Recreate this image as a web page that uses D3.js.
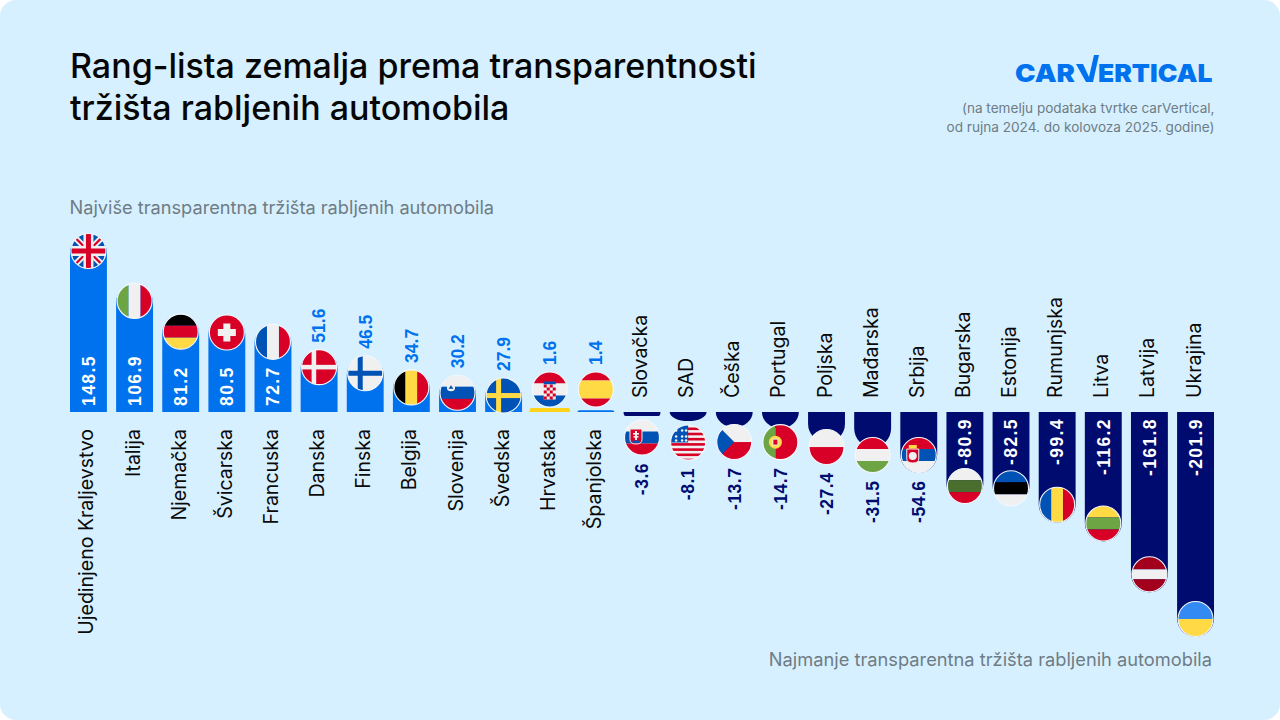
<!DOCTYPE html>
<html>
<head>
<meta charset="utf-8">
<script src="https://cdn.jsdelivr.net/npm/d3@7"></script>
<style>
    html, body { margin: 0; padding: 0; background: #fff; }
    text { font-family: Inter, "Noto Sans", sans-serif; }
    text.value { font-family: "Liberation Sans", Arial, sans-serif; font-weight: 700; }
</style>
</head>
<body>
<div id="chart"></div>
<script>
// values
const countries = ["Ujedinjeno Kraljevstvo", "Italija", "Njemačka", "Švicarska", "Francuska", "Danska", "Finska", "Belgija", "Slovenija", "Švedska", "Hrvatska", "Španjolska", "Slovačka", "SAD", "Češka", "Portugal", "Poljska", "Mađarska", "Srbija", "Bugarska", "Estonija", "Rumunjska", "Litva", "Latvija", "Ukrajina"];
const scores = [148.5, 106.9, 81.2, 80.5, 72.7, 51.6, 46.5, 34.7, 30.2, 27.9, 1.6, 1.4, -3.6, -8.1, -13.7, -14.7, -27.4, -31.5, -54.6, -80.9, -82.5, -99.4, -116.2, -161.8, -201.9];

const titleLines = ["Rang-lista zemalja prema transparentnosti", "tržišta rabljenih automobila"];
const noteLines = ["(na temelju podataka tvrtke carVertical,", "od rujna 2024. do kolovoza 2025. godine)"];
const topCaption = "Najviše transparentna tržišta rabljenih automobila";
const bottomCaption = "Najmanje transparentna tržišta rabljenih automobila";

const blue = "#0072EE", navy = "#000B70", bg = "#D7F0FF";
const RED = "#D80027", WHITE = "#F0F0F0", BLU = "#0052B4", YEL = "#FFDA44", GRN = "#6DA544", BLK = "#000000";

const svg = d3.select("#chart").append("svg")
    .attr("width", 1280)
    .attr("height", 720)
    .style("display", "block");

svg.append("rect").attr("width", 1280).attr("height", 720).attr("rx", 16).attr("fill", bg);

// scales: the two sides of the picture are not drawn at quite the same rate
const x = d3.scaleBand().domain(countries).range([70, 1214]).paddingInner(0.2).paddingOuter(0);
const y = d3.scaleLinear().domain([-201.9, 0, 148.5]).range([637, 412, 234]);
const r = 17.5;

// where a flag sits relative to the end of its bar
const negFlag = d3.scaleLinear()
    .domain([416, 421, 428, 442.5, 447, 473, 503, 504.8, 522.7])
    .range([437.5, 442.5, 442, 447, 455, 455, 487, 489.5, 504.7]);
function flagCentre(v) {
    const p = y(v);
    if (v >= 0) return p > 380 ? 389.5 : p + 17;
    return p > 522.7 ? p - 18 : negFlag(p);
}

// bars
function barPath(d) {
    const pad = d === 1.6 ? 2 : 0;
    const x0 = x(countries[scores.indexOf(d)]) - pad, x1 = x0 + x.bandwidth() + pad * 2;
    const end = y(d) + (d > 0 ? -pad : 0), h = Math.abs(end - y(0));
    const ry = Math.min(18.5, h), rx = h < 7 ? 2 : 18.5;
    const s = d > 0 ? -1 : 1;
    return "M" + x0 + "," + y(0)
        + "V" + (end - s * ry)
        + "A" + rx + "," + ry + " 0 0 " + (d > 0 ? 1 : 0) + " " + (x0 + rx) + "," + end
        + "H" + (x1 - rx)
        + "A" + rx + "," + ry + " 0 0 " + (d > 0 ? 1 : 0) + " " + x1 + "," + (end - s * ry)
        + "V" + y(0) + "Z";
}

svg.append("g").selectAll("path")
    .data(scores)
    .join("path")
    .attr("d", barPath)
    .attr("fill", d => d === 1.6 ? "#FFD31A" : (d > 0 ? blue : navy));

// flag helpers, drawn in a -18..18 box
function rect(g, x0, y0, w, h, c) {
    g.append("rect").attr("x", x0).attr("y", y0).attr("width", w).attr("height", h).attr("fill", c);
}
function hStripes(g, cols, cuts) {
    cuts = cuts || d3.range(cols.length + 1).map(i => -18 + 36 * i / cols.length);
    cols.forEach((c, i) => rect(g, -18, cuts[i], 36, cuts[i + 1] - cuts[i], c));
}
function vStripes(g, cols) {
    cols.forEach((c, i) => rect(g, -18 + 36 * i / cols.length, -18, 36 / cols.length, 36, c));
}
function poly(g, pts, c) {
    g.append("polygon").attr("points", pts).attr("fill", c);
}
function shield(g, cx, cy, w, h, fill, stroke) {
    g.append("path")
        .attr("d", "M" + (cx - w / 2) + "," + (cy - h / 2) + "H" + (cx + w / 2) + "V" + (cy + h / 5)
            + "Q" + (cx + w / 2) + "," + (cy + h / 2) + " " + cx + "," + (cy + h / 2)
            + "Q" + (cx - w / 2) + "," + (cy + h / 2) + " " + (cx - w / 2) + "," + (cy + h / 5) + "Z")
        .attr("fill", fill).attr("stroke", stroke).attr("stroke-width", 1);
}

const flags = {
    "Ujedinjeno Kraljevstvo": g => {
        rect(g, -18, -18, 36, 36, BLU);
        [[-18, -18, 18, 18], [-18, 18, 18, -18]].forEach(l => {
            g.append("line").attr("x1", l[0]).attr("y1", l[1]).attr("x2", l[2]).attr("y2", l[3]).attr("stroke", WHITE).attr("stroke-width", 6);
            g.append("line").attr("x1", l[0]).attr("y1", l[1]).attr("x2", l[2]).attr("y2", l[3]).attr("stroke", RED).attr("stroke-width", 2.2);
        });
        rect(g, -18, -5, 36, 10, WHITE); rect(g, -5, -18, 10, 36, WHITE);
        rect(g, -18, -2.5, 36, 5, RED); rect(g, -2.5, -18, 5, 36, RED);
    },
    "Italija": g => vStripes(g, [GRN, WHITE, RED]),
    "Njemačka": g => hStripes(g, [BLK, RED, YEL]),
    "Švicarska": g => { rect(g, -18, -18, 36, 36, RED); rect(g, -9, -3.5, 18, 7, WHITE); rect(g, -3.5, -9, 7, 18, WHITE); },
    "Francuska": g => vStripes(g, [BLU, WHITE, RED]),
    "Danska": g => { rect(g, -18, -18, 36, 36, RED); rect(g, -18, -2.3, 36, 4.6, WHITE); rect(g, -7.5, -18, 4.6, 36, WHITE); },
    "Finska": g => { rect(g, -18, -18, 36, 36, WHITE); rect(g, -18, -2.5, 36, 5, BLU); rect(g, -7.5, -18, 5, 36, BLU); },
    "Belgija": g => vStripes(g, [BLK, YEL, RED]),
    "Slovenija": g => {
        hStripes(g, [WHITE, BLU, RED]);
        shield(g, -6.5, -6.5, 8, 10, WHITE, "none");
        poly(g, "-9,-4 -6.5,-7.5 -4,-4", BLU);
    },
    "Švedska": g => { rect(g, -18, -18, 36, 36, BLU); rect(g, -18, -2.5, 36, 5, YEL); rect(g, -7.5, -18, 5, 36, YEL); },
    "Hrvatska": g => {
        hStripes(g, [RED, WHITE, BLU]);
        rect(g, -6, -8, 12, 3, BLU);
        rect(g, -6, -5, 12, 15, WHITE);
        d3.range(5).forEach(i => d3.range(4).forEach(j => {
            if ((i + j) % 2 === 0) rect(g, -6 + j * 3, -5 + i * 3, 3, 3, RED);
        }));
    },
    "Španjolska": g => hStripes(g, [RED, YEL, RED], [-18, -9, 9, 18]),
    "Slovačka": g => {
        hStripes(g, [WHITE, BLU, RED]);
        shield(g, -6, -1, 12, 15, RED, WHITE);
        rect(g, -7, -6.5, 2, 9, WHITE); rect(g, -9, -4.5, 6, 1.6, WHITE); rect(g, -8.5, -1.5, 5, 1.6, WHITE);
        rect(g, -9.5, 3, 7, 2.5, BLU);
    },
    "SAD": g => {
        rect(g, -18, -18, 36, 36, WHITE);
        d3.range(-15, 18, 5.2).forEach(t => rect(g, -18, t, 36, 2.6, RED));
        rect(g, -18, -18, 18, 18, BLU);
        [[-12, -12], [-6, -12], [-12, -6], [-6, -6], [-12, -2], [-6, -2], [-2, -12], [-2, -6], [-2, -2]].forEach(p =>
            g.append("circle").attr("cx", p[0]).attr("cy", p[1]).attr("r", 1.3).attr("fill", WHITE));
    },
    "Češka": g => { hStripes(g, [WHITE, RED]); poly(g, "-18,-18 0,0 -18,18", BLU); },
    "Portugal": g => {
        rect(g, -18, -18, 13, 36, GRN); rect(g, -5, -18, 23, 36, RED);
        g.append("circle").attr("cx", -5).attr("r", 6.5).attr("fill", YEL);
        rect(g, -8, -3.5, 6, 7, WHITE);
        rect(g, -7, -2.5, 4, 5, RED);
    },
    "Poljska": g => hStripes(g, [WHITE, RED]),
    "Mađarska": g => hStripes(g, [RED, WHITE, GRN]),
    "Srbija": g => {
        hStripes(g, [RED, BLU, WHITE]);
        shield(g, -6, 1, 12, 14, RED, WHITE);
        rect(g, -10, -10, 8, 3.5, YEL);
        g.append("circle").attr("cx", -6).attr("cy", 1).attr("r", 4).attr("fill", WHITE);
    },
    "Bugarska": g => hStripes(g, [WHITE, "#496E2D", RED]),
    "Estonija": g => hStripes(g, [BLU, BLK, WHITE]),
    "Rumunjska": g => vStripes(g, [BLU, YEL, RED]),
    "Litva": g => hStripes(g, [YEL, GRN, RED]),
    "Latvija": g => hStripes(g, ["#A2001D", WHITE, "#A2001D"], [-18, -5, 5, 18]),
    "Ukrajina": g => hStripes(g, ["#338AF3", YEL])
};

svg.append("defs").append("clipPath").attr("id", "flag-clip")
    .append("circle").attr("r", r);

countries.forEach((name, i) => {
    const g = svg.append("g")
        .attr("transform", "translate(" + (x(name) + x.bandwidth() / 2) + "," + flagCentre(scores[i]) + ")");
    const inner = g.append("g").attr("clip-path", "url(#flag-clip)");
    flags[name](inner);
    g.append("circle").attr("r", r).attr("fill", "none").attr("stroke", "#F4F8FB").attr("stroke-width", 1.1);
});

// rotated labels
function vText(px, py, txt, anchor) {
    return svg.append("text")
        .attr("transform", "translate(" + px + "," + py + ") rotate(-90)")
        .attr("text-anchor", anchor)
        .attr("dy", "0.36em")
        .text(txt);
}

countries.forEach((name, i) => {
    const v = scores[i], cx = x(name) + x.bandwidth() / 2, fc = flagCentre(v);
    // country name
    vText(cx - 2, v > 0 ? 429 : 398, name, v > 0 ? "end" : "start")
        .attr("font-size", 19.5).attr("fill", "#0A0A0A");
    // value, white when it fits in the bar
    const big = Math.abs(v) > 60;
    let t;
    if (big && v > 0) t = vText(cx, 406, v, "start");
    else if (big) t = vText(cx, 418, v, "end");
    else if (v > 0) t = vText(cx, fc - r - 7, v, "start");
    else t = vText(cx, fc + r + 8, v, "end");
    t.attr("class", "value")
        .attr("font-size", 17.5)
        .attr("letter-spacing", big ? 1.4 : (v > 0 ? 0 : 0.5))
        .attr("fill", big ? "#fff" : (v > 0 ? blue : navy));
});

// heading and notes
svg.selectAll(".title").data(titleLines).join("text")
    .attr("class", "title")
    .attr("x", 70)
    .attr("y", (d, i) => 78 + i * 42)
    .attr("font-size", 34)
    .attr("font-weight", 500)
    .attr("fill", "#060606")
    .text(d => d);

svg.selectAll(".note").data(noteLines).join("text")
    .attr("class", "note")
    .attr("x", 1214.5)
    .attr("y", (d, i) => 113 + i * 19)
    .attr("text-anchor", "end")
    .attr("font-size", 13.6)
    .attr("fill", "#6E7C85")
    .text(d => d);

svg.append("text").attr("x", 69.5).attr("y", 214)
    .attr("font-size", 18.2).attr("fill", "#6E7C85").text(topCaption);
svg.append("text").attr("x", 1212).attr("y", 666).attr("text-anchor", "end")
    .attr("font-size", 18.25).attr("fill", "#6E7C85").text(bottomCaption);

// logo
const logo = svg.append("g").attr("fill", blue).attr("font-weight", 900).attr("font-size", 25);
logo.append("text").attr("x", 1015).attr("y", 82).attr("textLength", 60).attr("lengthAdjust", "spacingAndGlyphs").text("CAR");
logo.append("polygon").attr("points", "1076,64 1083,64 1089,77 1094,55 1099,55 1093,82 1086,82");
logo.append("text").attr("x", 1098).attr("y", 82).attr("textLength", 114.5).attr("lengthAdjust", "spacingAndGlyphs").text("ERTICAL");
</script>
</body>
</html>
